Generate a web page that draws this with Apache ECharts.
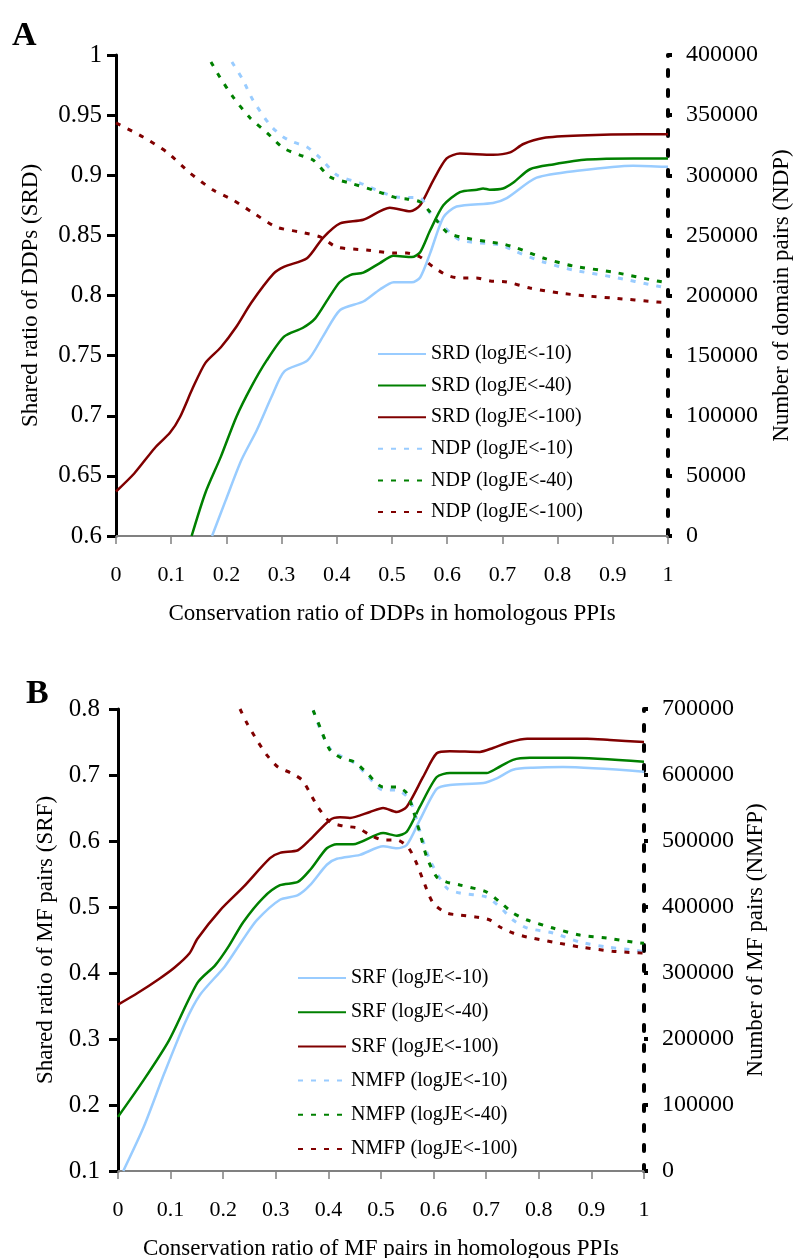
<!DOCTYPE html>
<html>
<head>
<meta charset="utf-8">
<script src="https://cdn.jsdelivr.net/npm/echarts@6/dist/echarts.min.js"></script>
<style>
html, body { margin: 0; padding: 0; background: #fff; }
#chart { width: 800px; height: 1258px; }
</style>
</head>
<body>
<div id="chart"></div>
<script>
// ---- panel A : x = conservation ratio of DDPs, y = SRD (left) / NDP (right)
var srdA10 = [[0.174,0.6],[0.199,0.630],[0.227,0.663],[0.255,0.688],[0.282,0.716],[0.305,0.737],[0.347,0.746],[0.375,0.766],[0.406,0.788],[0.448,0.795],[0.478,0.805],[0.503,0.811],[0.536,0.811],[0.551,0.815],[0.569,0.835],[0.593,0.865],[0.617,0.874],[0.683,0.877],[0.708,0.881],[0.762,0.898],[0.84,0.904],[0.937,0.908],[1,0.907]];
var srdA40 = [[0.137,0.6],[0.162,0.636],[0.19,0.666],[0.218,0.699],[0.245,0.724],[0.273,0.746],[0.305,0.766],[0.338,0.773],[0.361,0.781],[0.384,0.797],[0.405,0.811],[0.424,0.817],[0.448,0.819],[0.478,0.827],[0.503,0.833],[0.536,0.832],[0.551,0.836],[0.569,0.854],[0.593,0.875],[0.623,0.886],[0.654,0.888],[0.665,0.889],[0.677,0.888],[0.701,0.889],[0.72,0.894],[0.75,0.905],[0.792,0.909],[0.853,0.913],[0.937,0.914],[1,0.914]];
var srdA100 = [[0,0.637],[0.033,0.652],[0.07,0.673],[0.098,0.686],[0.116,0.699],[0.139,0.723],[0.162,0.744],[0.19,0.757],[0.218,0.774],[0.245,0.794],[0.285,0.818],[0.305,0.824],[0.346,0.831],[0.375,0.848],[0.406,0.860],[0.448,0.863],[0.496,0.873],[0.533,0.870],[0.551,0.875],[0.575,0.896],[0.599,0.914],[0.623,0.918],[0.683,0.917],[0.714,0.919],[0.738,0.926],[0.774,0.931],[0.84,0.933],[0.95,0.934],[1,0.934]];
var ndpA10 = [[0.21,394200],[0.23,379200],[0.248,362600],[0.279,341800],[0.303,331800],[0.321,327600],[0.346,323500],[0.37,314300],[0.40,300200],[0.442,293500],[0.478,286500],[0.509,281900],[0.551,281100],[0.569,268600],[0.587,260300],[0.623,246200],[0.696,242000],[0.726,236200],[0.774,227900],[0.828,221200],[0.90,215400],[0.98,207900],[1,206000]];
var ndpA40 = [[0.172,394200],[0.188,381700],[0.212,365100],[0.243,347600],[0.274,335100],[0.303,322700],[0.333,316800],[0.357,312700],[0.388,298500],[0.424,293500],[0.466,287700],[0.509,281100],[0.527,280300],[0.551,277800],[0.569,269400],[0.599,252800],[0.623,248700],[0.678,244500],[0.701,242800],[0.726,239500],[0.774,231200],[0.828,224500],[0.90,219500],[0.98,212100],[1,210500]];
var ndpA100 = [[0,343500],[0.049,331800],[0.092,319300],[0.134,301900],[0.176,287700],[0.212,279400],[0.249,268600],[0.29,257000],[0.333,252800],[0.37,248700],[0.40,240300],[0.454,237800],[0.503,235300],[0.527,235300],[0.551,232000],[0.575,223700],[0.599,217000],[0.623,214500],[0.653,214500],[0.678,212100],[0.708,211200],[0.75,206200],[0.804,202000],[0.853,199600],[0.90,197900],[0.98,194600],[1,194200]];

// ---- panel B : x = conservation ratio of MF pairs, y = SRF (left) / NMFP (right)
var srfB10 = [[0.01,0.1],[0.049,0.167],[0.088,0.248],[0.127,0.324],[0.156,0.367],[0.203,0.41],[0.237,0.45],[0.264,0.48],[0.308,0.511],[0.342,0.518],[0.365,0.533],[0.397,0.564],[0.416,0.573],[0.46,0.579],[0.504,0.592],[0.53,0.589],[0.549,0.594],[0.574,0.632],[0.606,0.679],[0.631,0.685],[0.695,0.688],[0.72,0.695],[0.751,0.708],[0.789,0.711],[0.846,0.712],[1,0.705]];
var srfB40 = [[0,0.182],[0.049,0.238],[0.097,0.298],[0.151,0.385],[0.185,0.412],[0.21,0.44],[0.238,0.477],[0.276,0.514],[0.308,0.533],[0.342,0.538],[0.365,0.556],[0.397,0.589],[0.416,0.595],[0.447,0.595],[0.504,0.612],[0.53,0.608],[0.549,0.614],[0.574,0.652],[0.606,0.697],[0.631,0.703],[0.701,0.703],[0.72,0.71],[0.751,0.723],[0.783,0.726],[0.859,0.726],[1,0.72]];
var srfB100 = [[0,0.352],[0.038,0.370],[0.078,0.391],[0.107,0.408],[0.136,0.43],[0.151,0.452],[0.194,0.495],[0.238,0.530],[0.289,0.574],[0.308,0.582],[0.342,0.586],[0.365,0.602],[0.403,0.632],[0.422,0.636],[0.441,0.635],[0.479,0.644],[0.504,0.65],[0.53,0.644],[0.549,0.652],[0.58,0.697],[0.606,0.733],[0.631,0.736],[0.688,0.735],[0.713,0.741],[0.745,0.75],[0.778,0.755],[0.892,0.755],[0.935,0.753],[1,0.75]];
var nmfpB10 = [[0.371,698000],[0.384,670000],[0.403,640000],[0.425,628000],[0.45,618000],[0.473,600000],[0.504,577200],[0.53,577200],[0.555,562000],[0.574,515000],[0.593,471200],[0.625,428700],[0.65,421200],[0.701,415100],[0.726,400000],[0.751,380300],[0.778,368100],[0.827,360600],[0.878,346900],[0.929,339400],[0.979,334800],[1,332000]];
var nmfpB40 = [[0.371,698000],[0.384,672700],[0.403,637800],[0.425,625700],[0.45,619600],[0.473,603000],[0.504,581800],[0.53,581800],[0.549,572700],[0.561,547000],[0.574,512000],[0.587,475700],[0.606,445400],[0.625,437800],[0.65,433300],[0.701,422700],[0.726,407500],[0.751,390900],[0.778,380300],[0.827,368100],[0.878,357500],[0.929,353000],[0.979,346900],[1,345000]];
var nmfpB100 = [[0.232,700000],[0.245,678700],[0.264,653000],[0.283,630200],[0.304,612100],[0.329,603000],[0.35,592400],[0.365,572700],[0.38,551500],[0.403,528700],[0.428,522700],[0.456,519600],[0.479,509000],[0.504,501500],[0.53,501500],[0.551,490900],[0.565,471200],[0.58,440900],[0.599,406000],[0.625,390900],[0.65,387800],[0.681,384800],[0.707,380300],[0.726,369700],[0.751,360600],[0.778,354500],[0.827,346900],[0.878,339400],[0.94,333000],[1,330000]];

var FONT = "'Liberation Serif', 'Times New Roman', serif";
var C10 = '#99ccff', C40 = '#008000', C100 = '#800000';

function solid(name, data, color, xi, yi){
    return {
        name: name, type: 'line', data: data, xAxisIndex: xi, yAxisIndex: yi,
        symbol: 'none', smooth: 0.25,
        lineStyle: { color: color, width: 2.5 },
        itemStyle: { color: color }
    };
}
function dashed(name, data, color, xi, yi){
    return {
        name: name, type: 'line', data: data, xAxisIndex: xi, yAxisIndex: yi,
        symbol: 'none', smooth: 0.25,
        lineStyle: { color: color, width: 3, type: [5, 8] },
        itemStyle: { color: color }
    };
}
function xAxisOf(gi, name){
    return {
        type: 'value', gridIndex: gi, min: 0, max: 1, interval: 0.1,
        name: name, nameLocation: 'middle', nameGap: 66,
        nameTextStyle: { fontFamily: FONT, fontSize: 23, color: '#000' },
        axisLine: { lineStyle: { color: '#808080', width: 2 } },
        axisTick: { show: true, length: 8, lineStyle: { color: '#808080', width: 1.5 } },
        axisLabel: { fontFamily: FONT, fontSize: 22, color: '#000', margin: 28 },
        splitLine: { show: false }
    };
}
function leftAxisOf(gi, min, max, step, name, gap, margin){
    return {
        type: 'value', gridIndex: gi, position: 'left', min: min, max: max, interval: step,
        name: name, nameLocation: 'middle', nameRotate: 90, nameGap: gap,
        nameTextStyle: { fontFamily: FONT, fontSize: 23, color: '#000' },
        axisLine: { show: true, lineStyle: { color: '#000', width: 3 } },
        axisTick: { show: true, length: 9, lineStyle: { color: '#000', width: 3 } },
        axisLabel: { fontFamily: FONT, fontSize: 25, color: '#000', margin: margin },
        splitLine: { show: false }
    };
}
function rightAxisOf(gi, max, step, name, gap){
    return {
        type: 'value', gridIndex: gi, position: 'right', min: 0, max: max, interval: step,
        name: name, nameLocation: 'middle', nameRotate: 90, nameGap: gap,
        nameTextStyle: { fontFamily: FONT, fontSize: 23, color: '#000' },
        axisLine: { show: true, lineStyle: { color: '#000', width: 4, type: [6, 14] } },
        axisTick: { show: true, length: 4, lineStyle: { color: '#000', width: 4 } },
        axisLabel: {
            fontFamily: FONT, fontSize: 24, color: '#000', margin: 18,
            formatter: function(v){ return String(v); }
        },
        splitLine: { show: false }
    };
}
function legendOf(names, left, top, gap){
    return {
        data: names, orient: 'vertical', left: left, top: top,
        itemWidth: 48, itemHeight: 14, itemGap: gap,
        itemStyle: { opacity: 0, borderWidth: 0 },
        textStyle: { fontFamily: FONT, fontSize: 20, lineHeight: 20, color: '#000' }
    };
}

var namesA = ['SRD (logJE<-10)', 'SRD (logJE<-40)', 'SRD (logJE<-100)', 'NDP (logJE<-10)', 'NDP (logJE<-40)', 'NDP (logJE<-100)'];
var namesB = ['SRF (logJE<-10)', 'SRF (logJE<-40)', 'SRF (logJE<-100)', 'NMFP (logJE<-10)', 'NMFP (logJE<-40)', 'NMFP (logJE<-100)'];

var option = {
    animation: false,
    backgroundColor: '#fff',
    grid: [
        { left: 116, top: 55, width: 552, height: 481, outerBoundsMode: 'none' },
        { left: 118, top: 709, width: 526, height: 462, outerBoundsMode: 'none' }
    ],
    graphic: [
        { type: 'text', left: 12, top: 19, style: { text: 'A', fontFamily: FONT, fontSize: 34, fontWeight: 'bold', fill: '#000' } },
        { type: 'text', left: 26, top: 677, style: { text: 'B', fontFamily: FONT, fontSize: 34, fontWeight: 'bold', fill: '#000' } }
    ],
    legend: [
        legendOf(namesA, 372, 339, 11.6),
        legendOf(namesB, 292, 963, 14.2)
    ],
    xAxis: [
        xAxisOf(0, 'Conservation ratio of DDPs in homologous PPIs'),
        xAxisOf(1, 'Conservation ratio of MF pairs in homologous PPIs')
    ],
    yAxis: [
        leftAxisOf(0, 0.6, 1, 0.05, 'Shared ratio of DDPs (SRD)', 74, 14),
        rightAxisOf(0, 400000, 50000, 'Number of domain pairs (NDP)', 102),
        leftAxisOf(1, 0.1, 0.8, 0.1, 'Shared ratio of MF pairs (SRF)', 59, 18),
        rightAxisOf(1, 700000, 100000, 'Number of MF pairs (NMFP)', 98)
    ],
    series: [
        solid(namesA[0], srdA10, C10, 0, 0),
        solid(namesA[1], srdA40, C40, 0, 0),
        solid(namesA[2], srdA100, C100, 0, 0),
        dashed(namesA[3], ndpA10, C10, 0, 1),
        dashed(namesA[4], ndpA40, C40, 0, 1),
        dashed(namesA[5], ndpA100, C100, 0, 1),
        solid(namesB[0], srfB10, C10, 1, 2),
        solid(namesB[1], srfB40, C40, 1, 2),
        solid(namesB[2], srfB100, C100, 1, 2),
        dashed(namesB[3], nmfpB10, C10, 1, 3),
        dashed(namesB[4], nmfpB40, C40, 1, 3),
        dashed(namesB[5], nmfpB100, C100, 1, 3)
    ]
};

var myChart = echarts.init(document.getElementById('chart'));
myChart.setOption(option);
</script>
</body>
</html>
